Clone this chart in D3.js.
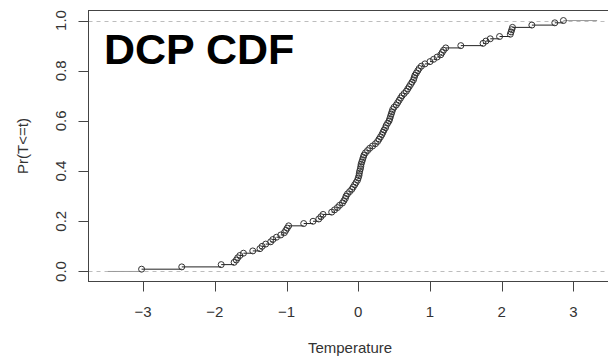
<!DOCTYPE html>
<html>
<head>
<meta charset="utf-8">
<script src="https://cdn.jsdelivr.net/npm/d3@7"></script>
<style>
  body { margin: 0; background: #fff; }
  text { font-family: "Liberation Sans", Arial, sans-serif; }
</style>
</head>
<body>
<div id="chart"></div>
<script>
// sorted sample of temperatures
var temps = [
  -3.02, -2.46, -1.91, -1.73, -1.70, -1.68, -1.65, -1.60, -1.47, -1.37,
  -1.34, -1.29, -1.22, -1.19, -1.14, -1.08, -1.03, -1.01, -0.99, -0.97,
  -0.76, -0.63, -0.55, -0.52, -0.49, -0.37, -0.33, -0.29, -0.26, -0.22,
  -0.20, -0.18, -0.17, -0.15, -0.12, -0.09, -0.07, -0.05, -0.03, -0.01,
  0.00, 0.01, 0.015, 0.02, 0.03, 0.035, 0.04, 0.05, 0.06, 0.07,
  0.08, 0.10, 0.13, 0.16, 0.20, 0.24, 0.27, 0.29, 0.31, 0.33,
  0.345, 0.36, 0.38, 0.39, 0.41, 0.43, 0.44, 0.45, 0.46, 0.47,
  0.48, 0.50, 0.53, 0.55, 0.57, 0.59, 0.61, 0.64, 0.67, 0.69,
  0.71, 0.73, 0.75, 0.77, 0.78, 0.79, 0.81, 0.83, 0.85, 0.88,
  0.93, 1.00, 1.05, 1.10, 1.15, 1.17, 1.19, 1.22, 1.43, 1.74,
  1.78, 1.84, 1.97, 2.12, 2.13, 2.14, 2.15, 2.42, 2.74, 2.86
];
var xTicks = [-3, -2, -1, 0, 1, 2, 3];
var yTicks = [0, 0.2, 0.4, 0.6, 0.8, 1.0];
var title = "DCP CDF";
var xLabel = "Temperature";
var yLabel = "Pr(T<=t)";

var W = 608, H = 356;
var box = { left: 88.5, right: 616.5, top: 10.5, bottom: 281.5 };

var svg = d3.select("#chart")
  .append("svg")
  .attr("width", W)
  .attr("height", H);

var x = d3.scaleLinear()
  .domain([-3.76, 3.60])
  .range([box.left, box.right]);

var y = d3.scaleLinear()
  .domain([-0.04, 1.04])
  .range([box.bottom, box.top]);

var n = temps.length;
var pts = temps.map(function (t, i) { return { t: t, p: (i + 1) / n }; });

// dashed reference lines at 0 and 1
svg.selectAll(".ref")
  .data([0, 1])
  .enter()
  .append("line")
  .attr("x1", box.left).attr("x2", box.right)
  .attr("y1", function (d) { return Math.round(y(d)) + 0.5; })
  .attr("y2", function (d) { return Math.round(y(d)) + 0.5; })
  .attr("stroke", "#bdbdbd")
  .attr("stroke-dasharray", "4,4");

// step segments
var lo = -3.49, hi = 3.33;
var segs = [{ x1: lo, x2: pts[0].t, p: 0, edge: true }];
pts.forEach(function (d, i) {
  var nx = i < n - 1 ? pts[i + 1].t : hi;
  segs.push({ x1: d.t, x2: nx, p: d.p, edge: i == n - 1 });
});

svg.append("g")
  .selectAll("line")
  .data(segs)
  .enter()
  .append("line")
  .attr("x1", function (d) { return x(d.x1); })
  .attr("x2", function (d) { return x(d.x2); })
  .attr("y1", function (d) { return y(d.p); })
  .attr("y2", function (d) { return y(d.p); })
  .attr("stroke", function (d) { return d.edge ? "#999" : "#222"; })
  .attr("stroke-width", 1);

svg.append("g")
  .selectAll("circle")
  .data(pts)
  .enter()
  .append("circle")
  .attr("cx", function (d) { return x(d.t); })
  .attr("cy", function (d) { return y(d.p); })
  .attr("r", 3)
  .attr("fill", "none")
  .attr("stroke", "#333")
  .attr("stroke-width", 1);

// box
svg.append("rect")
  .attr("x", box.left).attr("y", box.top)
  .attr("width", box.right - box.left).attr("height", box.bottom - box.top)
  .attr("fill", "none")
  .attr("stroke", "#444")
  .attr("stroke-width", 1);

// x axis
var gx = svg.append("g");
gx.selectAll("line")
  .data(xTicks)
  .enter()
  .append("line")
  .attr("x1", function (d) { return Math.round(x(d)) + 0.5; })
  .attr("x2", function (d) { return Math.round(x(d)) + 0.5; })
  .attr("y1", box.bottom).attr("y2", box.bottom + 10)
  .attr("stroke", "#444");
gx.selectAll("text")
  .data(xTicks)
  .enter()
  .append("text")
  .attr("x", function (d) { return x(d); })
  .attr("y", 316.5)
  .attr("text-anchor", "middle")
  .style("font-size", "15px")
  .attr("fill", "#333")
  .text(function (d) { return d < 0 ? "\u2212" + Math.abs(d) : d; });

// y axis
var gy = svg.append("g");
gy.selectAll("line")
  .data(yTicks)
  .enter()
  .append("line")
  .attr("x1", box.left - 10).attr("x2", box.left)
  .attr("y1", function (d) { return Math.round(y(d)) + 0.5; })
  .attr("y2", function (d) { return Math.round(y(d)) + 0.5; })
  .attr("stroke", "#444");
gy.selectAll("text")
  .data(yTicks)
  .enter()
  .append("text")
  .attr("transform", function (d) { return "translate(66," + y(d) + ") rotate(-90)"; })
  .attr("text-anchor", "middle")
  .style("font-size", "15px")
  .attr("fill", "#333")
  .text(function (d) { return d.toFixed(1); });

svg.append("text")
  .attr("x", 350)
  .attr("y", 352.5)
  .attr("text-anchor", "middle")
  .style("font-size", "15px")
  .attr("fill", "#333")
  .text(xLabel);

svg.append("text")
  .attr("transform", "translate(28," + (box.top + box.bottom) / 2 + ") rotate(-90)")
  .attr("text-anchor", "middle")
  .style("font-size", "15px")
  .attr("fill", "#333")
  .text(yLabel);

svg.append("text")
  .attr("x", 104)
  .attr("y", 63.5)
  .style("font-size", "43px")
  .style("font-weight", "bold")
  .attr("fill", "#000")
  .text(title);
</script>
</body>
</html>
